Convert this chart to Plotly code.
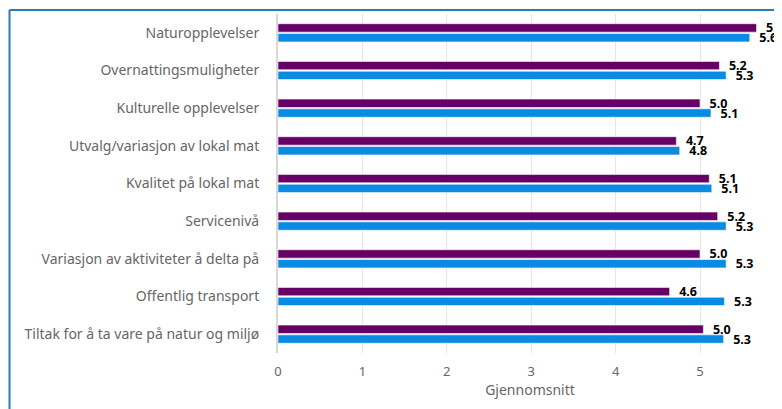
import plotly.graph_objects as go

categories = [
    "Naturopplevelser",
    "Overnattingsmuligheter",
    "Kulturelle opplevelser",
    "Utvalg/variasjon av lokal mat",
    "Kvalitet på lokal mat",
    "Servicenivå",
    "Variasjon av aktiviteter å delta på",
    "Offentlig transport",
    "Tiltak for å ta vare på natur og miljø",
]
series_a = [5.67, 5.23, 5.0, 4.72, 5.11, 5.21, 5.0, 4.64, 5.04]
series_b = [5.59, 5.31, 5.13, 4.76, 5.14, 5.31, 5.31, 5.29, 5.28]
x_ticks = [0, 1, 2, 3, 4, 5, 6]

FONT = "Noto Sans"
label_font = dict(family=FONT, size=12.5, color="#000000", weight="bold",
                  shadow="1px 1px 2px white")

# page body adds an 8px offset, so the figure is a bit smaller than the window
W, H = 774, 401
L, T, B = 270, 6, 56
PW, PH = W - L, H - T - B

fig = go.Figure()
for vals, color in [(series_a, "#660066"), (series_b, "#0a8be3")]:
    fig.add_trace(go.Bar(
        y=categories,
        x=vals,
        orientation="h",
        marker=dict(color=color, line=dict(color="white", width=0.6)),
        texttemplate="\u00a0\u00a0%{x:.1f}",
        textposition="outside",
        textfont=label_font,
        constraintext="none",
        cliponaxis=False,
        hoverinfo="skip",
    ))

border_x = (1.5 - L) / PW
border_y = (T + PH - 2) / PH

fig.update_layout(
    width=W,
    height=H,
    margin=dict(l=L, r=0, t=T, b=B),
    barmode="group",
    bargap=0.48,
    bargroupgap=0.14,
    showlegend=False,
    plot_bgcolor="white",
    paper_bgcolor="white",
    font=dict(family=FONT, color="#666666", size=13),
    xaxis=dict(
        range=[0, PW / 84.4],
        tickvals=x_ticks,
        showgrid=True,
        gridcolor="#e6e6e6",
        gridwidth=1,
        zeroline=False,
        ticks="outside",
        ticklen=6,
        tickcolor="rgba(0,0,0,0)",
        tickfont=dict(size=13, color="#666666"),
        title=dict(text="Gjennomsnitt", font=dict(size=14, color="#666666"),
                   standoff=3),
        fixedrange=True,
    ),
    yaxis=dict(
        autorange="reversed",
        showline=True,
        linecolor="#d8d8d8",
        linewidth=2,
        ticks="",
        ticklabelstandoff=14,
        tickfont=dict(size=14, color="#666666"),
        fixedrange=True,
    ),
    shapes=[
        dict(type="line", xref="paper", yref="paper",
             x0=border_x, x1=1.05, y0=border_y, y1=border_y,
             line=dict(color="#2b7bb5", width=2)),
        dict(type="line", xref="paper", yref="paper",
             x0=border_x, x1=border_x, y0=border_y, y1=-0.3,
             line=dict(color="#2b7bb5", width=2)),
    ],
    annotations=[
        dict(x=6, y=0, xref="x", yref="paper", text="6", showarrow=False,
             yanchor="top", yshift=-6, font=dict(size=13, color="#666666")),
    ],
)

fig.write_html("out.html")
